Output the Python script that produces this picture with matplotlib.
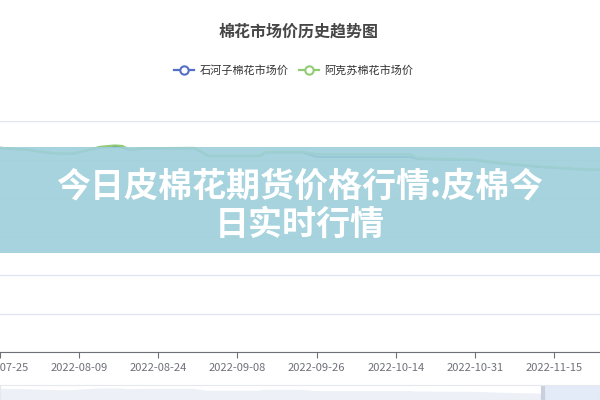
import matplotlib
matplotlib.use("Agg")
import matplotlib.pyplot as plt
from matplotlib.patches import Rectangle
from matplotlib.lines import Line2D

plt.rcParams['font.family'] = ['Noto Sans CJK SC', 'DejaVu Sans']

# category index of each sampled point (one index = one trading day)
day_idx = [0, 4, 7, 10, 12, 14, 16, 17, 18, 20, 27, 29, 36, 37, 42, 44, 57, 58, 66, 69, 75, 80, 84]
shihezi = [15900, 15740, 15500, 15430, 15700, 15950, 15990, 15950, 15740, 15860, 15880, 15270,
           15270, 15560, 15560, 15200, 15200, 15040, 14960, 14730, 14420, 14250, 14180]
akesu = [15910, 15750, 15520, 15450, 15720, 15990, 16090, 16050, 15760, 15880, 15900, 15280,
         15290, 15590, 15590, 15420, 15420, 15100, 15000, 14780, 14450, 14270, 14190]

tick_idx = [0, 11, 22, 33, 44, 55, 66, 77]
tick_labels = ["2022-07-25", "2022-08-09", "2022-08-24", "2022-09-08",
               "2022-09-26", "2022-10-14", "2022-10-31", "2022-11-15"]

fig = plt.figure(figsize=(6, 4), dpi=100)
ax = fig.add_axes([0, 0.12, 1, 0.5775])

ax.plot(day_idx, shihezi, color="#5470c6", lw=1.6, label="石河子棉花市场价")
ax.plot(day_idx, akesu, color="#91cc75", lw=1.6, label="阿克苏棉花市场价")

ax.set_xlim(0.35, 83.4)
ax.set_ylim(0, 18000)
ax.set_yticks(range(0, 18001, 3000))
ax.yaxis.grid(True, color="#E0E6F1", lw=1)
ax.tick_params(axis="y", left=False, labelleft=False)
ax.set_xticks(tick_idx)
ax.set_xticklabels(tick_labels, fontsize=8, color="#6E7079")
ax.tick_params(axis="x", length=4, color="#6E7079", pad=4)
for s in ["top", "left", "right"]:
    ax.spines[s].set_visible(False)
ax.spines["bottom"].set_color("#6E7079")
ax.set_axisbelow(True)

fig.text(0.497, 0.92, "棉花市场价历史趋势图", ha="center", va="center",
         fontsize=11.5, fontweight="bold", color="#464646")

handles = [Line2D([], [], color="#5470c6", lw=1.6, marker="o", markersize=6,
                  markerfacecolor="white", markeredgewidth=1.5),
           Line2D([], [], color="#91cc75", lw=1.6, marker="o", markersize=6,
                  markerfacecolor="white", markeredgewidth=1.5)]
fig.legend(handles, ["石河子棉花市场价", "阿克苏棉花市场价"], loc="center",
           bbox_to_anchor=(0.49, 0.823), ncol=2, frameon=False, fontsize=8,
           handlelength=1.8, columnspacing=0.9, handletextpad=0.5,
           labelcolor="#333333")

# dataZoom slider strip at the bottom
sl = fig.add_axes([0, 0, 1, 0.0375])
sl.fill_between(day_idx, 0, shihezi, color="#eef0f7", lw=0)
sl.axvspan(75.5, 84, color="#e3eaf8")
sl.axvline(75.5, color="#c9cfdc", lw=3)
sl.set_xlim(0.35, 83.4)
sl.set_ylim(12500, 17000)
sl.set_xticks([])
sl.set_yticks([])
for s in sl.spines.values():
    s.set_color("#e6e8ef")

# overlay banner with headline
fig.patches.append(Rectangle((0, 1 - 253 / 400), 1, 106 / 400, transform=fig.transFigure,
                             facecolor="#9fd0da", alpha=0.92, zorder=5))
fig.text(0.5, 1 - 186 / 400, "今日皮棉花期货价格行情:皮棉今", ha="center", va="center",
         fontsize=24.5, fontweight="heavy", color="white", zorder=6)
fig.text(0.5, 1 - 224 / 400, "日实时行情", ha="center", va="center",
         fontsize=24.5, fontweight="heavy", color="white", zorder=6)

fig.savefig("out.png", dpi=100)
